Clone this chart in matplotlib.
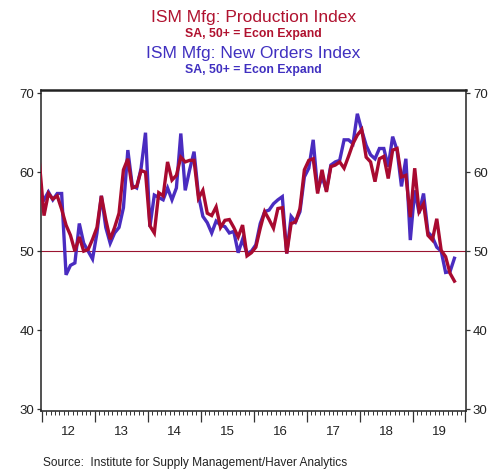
import numpy as np
import pandas as pd
import matplotlib
matplotlib.use("Agg")
import matplotlib.pyplot as plt
from matplotlib.ticker import FixedLocator, NullFormatter

plt.rcParams['font.family'] = ['Liberation Sans', 'DejaVu Sans']

# monthly data, Dec 2011 .. Oct 2019
start_month = '2011-12-01'

production = [61.0,
    # 2012
    54.5, 57.3, 56.6, 57.0, 55.3, 53.3, 52.0, 50.0, 51.8, 50.0, 50.2, 51.5,
    # 2013
    53.0, 57.0, 54.0, 51.5, 53.0, 54.8, 60.3, 61.7, 58.0, 58.2, 60.2, 60.0,
    # 2014
    53.2, 52.3, 57.4, 57.0, 61.3, 59.0, 59.6, 61.9, 61.3, 61.5, 61.5, 56.7,
    # 2015
    57.7, 54.8, 54.5, 55.6, 53.0, 53.9, 54.0, 53.0, 51.8, 53.3, 49.4, 49.8,
    # 2016
    50.5, 52.9, 55.0, 54.0, 52.9, 55.4, 55.5, 49.7, 53.5, 53.7, 55.4, 60.3,
    # 2017
    61.5, 61.7, 57.3, 60.3, 57.5, 60.7, 60.9, 61.3, 60.5, 62.0, 63.6, 64.7,
    # 2018
    65.4, 61.9, 61.3, 58.8, 61.7, 62.0, 59.2, 62.8, 63.0, 59.4, 59.6, 54.3,
    # 2019
    60.5, 55.0, 56.0, 52.0, 51.4, 54.1, 50.1, 49.3, 47.2, 46.2]

new_orders = [56.8,
    # 2012
    56.5, 57.5, 56.5, 57.3, 57.3, 47.0, 48.2, 48.5, 53.5, 51.0, 50.0, 49.0,
    # 2013
    52.3, 57.0, 53.0, 51.0, 52.3, 53.0, 55.5, 62.8, 58.3, 58.0, 60.5, 65.0,
    # 2014
    53.1, 57.1, 56.8, 56.5, 58.0, 56.5, 58.0, 64.9, 57.7, 60.3, 62.6, 57.1,
    # 2015
    54.4, 53.6, 52.3, 53.8, 53.3, 53.1, 52.3, 52.5, 49.8, 51.5, 49.7, 50.0,
    # 2016
    50.8, 53.5, 55.0, 55.2, 56.0, 56.5, 56.9, 49.7, 54.4, 53.7, 55.0, 59.4,
    # 2017
    60.5, 64.1, 57.7, 59.4, 57.7, 60.9, 61.3, 61.5, 64.1, 64.1, 63.6, 67.4,
    # 2018
    65.3, 63.4, 62.2, 61.7, 63.0, 63.0, 60.7, 64.5, 62.8, 58.2, 61.7, 51.4,
    # 2019
    57.7, 54.8, 57.3, 52.4, 51.8, 50.5, 50.0, 47.3, 47.4, 49.1]

year_labels = ['12', '13', '14', '15', '16', '17', '18', '19']
y_ticks = [30, 40, 50, 60, 70]

red = '#a80a30'
blue = '#4a2cc0'

months = pd.date_range(start_month, periods=len(production), freq='MS')
t = months.year + (months.month - 0.5) / 12.0

fig = plt.figure(figsize=(4.88, 4.71), dpi=100)
ax = fig.add_axes([0.084, 0.1274, 0.8709, 0.6805])

ax.axhline(50, color='#9a1530', lw=0.8, zorder=1)
ax.plot(t, new_orders, color=blue, lw=2.4, solid_joinstyle='miter', zorder=2)
ax.plot(t, production, color=red, lw=2.4, solid_joinstyle='miter', zorder=3)

ax.set_xlim(2011.985, 2020.01)
ax.set_ylim(29.75, 70.35)

years = np.arange(2012, 2021)
ax.xaxis.set_major_locator(FixedLocator(years))
ax.xaxis.set_minor_locator(FixedLocator(np.arange(2012, 2020, 1 / 12.0)))
ax.xaxis.set_major_formatter(NullFormatter())
ax.tick_params(axis='x', which='major', direction='out', length=8, width=0.9, color='#333333')
ax.tick_params(axis='x', which='minor', direction='out', length=3, width=0.7, color='#333333')
for i, lab in enumerate(year_labels):
    ax.text(2012.5 + i, -0.066, lab, transform=ax.get_xaxis_transform(),
            ha='center', va='center', fontsize=9.5, color='#222222')

ax.set_yticks(y_ticks)
ax.tick_params(axis='y', which='both', direction='out', length=3, width=0.9, color='#333333',
               labelsize=9.5, labelcolor='#222222', left=True, right=True,
               labelleft=True, labelright=True, pad=2)

for side in ['left', 'right', 'bottom']:
    ax.spines[side].set_linewidth(1.1)
    ax.spines[side].set_color('#222222')
ax.spines['top'].set_linewidth(1.8)
ax.spines['top'].set_color('#222222')

fig.text(0.5195, 0.963, 'ISM Mfg: Production Index', color='#b0122f',
         fontsize=12.5, ha='center', va='center')
fig.text(0.5195, 0.928, 'SA, 50+ = Econ Expand', color='#b0122f',
         fontsize=8.8, fontweight='bold', ha='center', va='center')
fig.text(0.5195, 0.886, 'ISM Mfg: New Orders Index', color='#4030c0',
         fontsize=12.5, ha='center', va='center')
fig.text(0.5195, 0.851, 'SA, 50+ = Econ Expand', color='#4030c0',
         fontsize=8.8, fontweight='bold', ha='center', va='center')

fig.text(0.088, 0.017, 'Source:  Institute for Supply Management/Haver Analytics',
         fontsize=8.6, color='#222222', ha='left', va='center')

fig.savefig('out.png', dpi=100)
